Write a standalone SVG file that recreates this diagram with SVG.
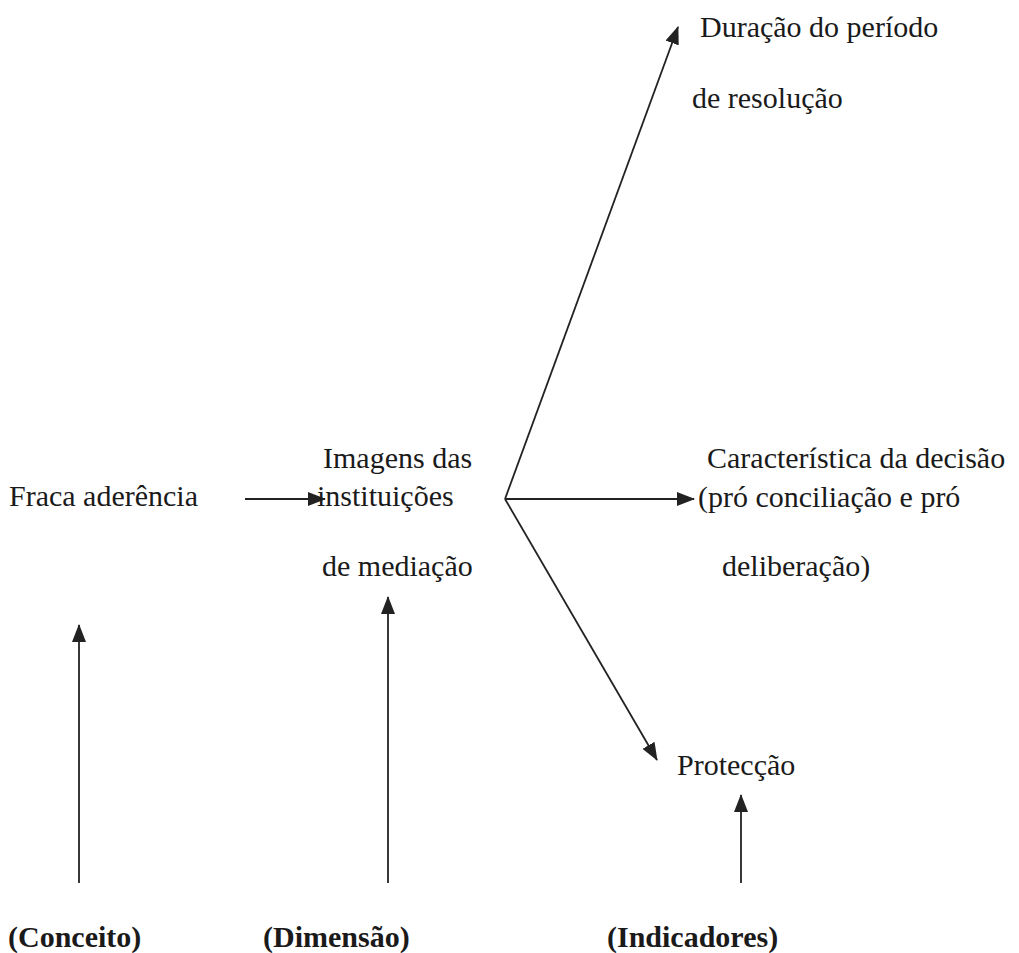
<svg xmlns="http://www.w3.org/2000/svg" width="1019" height="953" viewBox="0 0 1019 953">
<style>
text{font-family:"Liberation Serif","Times New Roman",serif;font-size:30px;fill:#1a1a1a}
.b{font-weight:bold}
.c{stroke:#222;stroke-width:1.8;fill:none;marker-end:url(#ah)}
</style>
<defs>
<marker id="ah" markerUnits="userSpaceOnUse" markerWidth="18" markerHeight="14" viewBox="0 0 18 14" refX="17" refY="7" orient="auto">
<path d="M0,0 L18,7 L0,14 Z" fill="#222"/>
</marker>
</defs>
<rect width="1019" height="953" fill="#fff"/>
<g id="connectors">
<line class="c" x1="245" y1="499" x2="325" y2="499"/>
<line class="c" x1="505" y1="499" x2="678" y2="27"/>
<line class="c" x1="505" y1="499" x2="694" y2="499"/>
<line class="c" x1="505" y1="499" x2="657" y2="760"/>
<line class="c" x1="79" y1="883" x2="79" y2="625"/>
<line class="c" x1="388" y1="883" x2="388" y2="597"/>
<line class="c" x1="741" y1="883" x2="741" y2="795"/>
</g>
<g id="n-duracao"><text x="700" y="37">Duração do período</text><text x="692" y="108">de resolução</text></g>
<g id="n-fraca"><text x="9" y="506">Fraca aderência</text></g>
<g id="n-imagens"><text x="323" y="468">Imagens das</text><text x="317" y="506">instituições</text><text x="322" y="576">de mediação</text></g>
<g id="n-caracteristica"><text x="707" y="468">Característica da decisão</text><text x="698" y="507">(pró conciliação e pró</text><text x="722" y="576">deliberação)</text></g>
<g id="n-proteccao"><text x="677" y="775">Protecção</text></g>
<g id="n-conceito"><text class="b" x="8" y="947">(Conceito)</text></g>
<g id="n-dimensao"><text class="b" x="263" y="947">(Dimensão)</text></g>
<g id="n-indicadores"><text class="b" x="607" y="947">(Indicadores)</text></g>
</svg>
